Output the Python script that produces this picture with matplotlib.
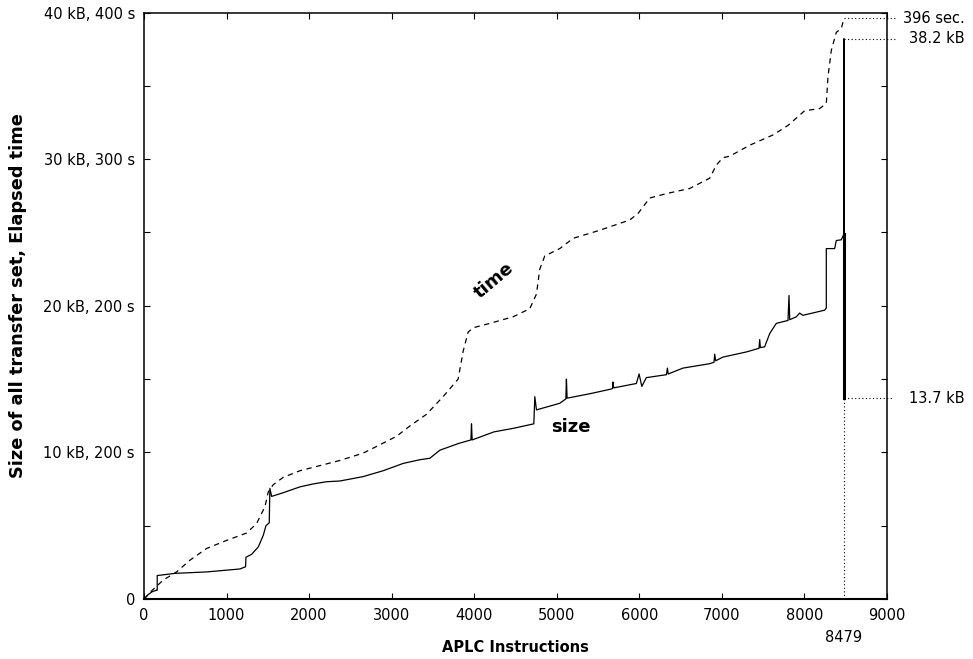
import matplotlib
matplotlib.use("Agg")
import matplotlib.pyplot as plt

# transfer set size (kB) vs. APLC instruction count
size_x = [0, 50, 100, 150, 160, 160, 375, 763, 1162, 1230, 1235, 1304, 1384, 1445,
          1477, 1517, 1525, 1546, 1686, 1889, 2050, 2212, 2373, 2655, 2897, 3140,
          3341, 3462, 3584, 3805, 3960, 3967, 3975, 4239, 4481, 4722, 4734, 4754,
          5036, 5110, 5117, 5125, 5400, 5642, 5675, 5680, 5690, 5964, 5997, 6030,
          6085, 6328, 6340, 6350, 6529, 6852, 6905, 6913, 6925, 7013, 7296, 7450,
          7458, 7466, 7518, 7579, 7659, 7801, 7813, 7822, 7902, 7942, 7982, 8245,
          8265, 8265, 8366, 8386, 8446, 8479, 8479, 8479]
size_y = [0, 0.3, 0.5, 0.6, 0.6, 1.6, 1.75, 1.85, 2.05, 2.2, 2.85, 3.05, 3.55, 4.35,
          5.0, 5.2, 7.55, 7.0, 7.25, 7.65, 7.85, 8.0, 8.05, 8.35, 8.75, 9.25,
          9.5, 9.6, 10.15, 10.6, 10.85, 11.95, 10.85, 11.4, 11.65, 11.95, 13.8, 12.9,
          13.35, 13.65, 15.0, 13.7, 14.0, 14.3, 14.35, 14.8, 14.4, 14.7, 15.35, 14.5,
          15.1, 15.3, 15.75, 15.35, 15.75, 16.05, 16.15, 16.7, 16.25, 16.5, 16.85, 17.1,
          17.7, 17.15, 17.2, 18.1, 18.8, 19.0, 20.7, 19.05, 19.25, 19.5, 19.35, 19.7,
          19.85, 23.9, 23.9, 24.45, 24.5, 24.9, 38.2, 13.7]

# elapsed time (s / 10)
time_x = [0, 100, 234, 395, 557, 759, 1001, 1243, 1364, 1465, 1505, 1566, 1686,
          1889, 2131, 2373, 2655, 2850, 3059, 3220, 3422, 3623, 3805, 3866, 3926,
          3987, 4189, 4471, 4673, 4754, 4794, 4855, 5036, 5198, 5521, 5884, 5985,
          6126, 6328, 6610, 6852, 6933, 7013, 7094, 7337, 7619, 7801, 8002, 8184,
          8265, 8285, 8325, 8386, 8446, 8479]
time_y = [0, 0.6, 1.3, 1.85, 2.65, 3.45, 4.0, 4.5, 5.15, 6.3, 7.3, 7.8, 8.3,
          8.75, 9.1, 9.45, 9.95, 10.5, 11.1, 11.8, 12.6, 13.8, 15.0, 16.9, 18.2,
          18.5, 18.8, 19.25, 19.8, 20.8, 22.5, 23.4, 23.9, 24.6, 25.15, 25.85, 26.3,
          27.35, 27.65, 28.0, 28.7, 29.6, 30.1, 30.2, 30.95, 31.65, 32.3, 33.3, 33.45,
          33.8, 35.6, 37.4, 38.65, 38.9, 39.6]

x_ticks = [0, 1000, 2000, 3000, 4000, 5000, 6000, 7000, 8000, 9000]
y_ticks = [0, 5, 10, 15, 20, 25, 30, 35, 40]
y_labels = ["0", "", "10 kB, 200 s", "", "20 kB, 200 s", "", "30 kB, 300 s", "", "40 kB, 400 s"]

last_x = 8479
end_time = 39.6
peak_size = 38.2
end_size = 13.7
end_labels = ["396 sec.", "38.2 kB", "13.7 kB"]

fig = plt.figure(figsize=(9.73, 6.59), dpi=100)
ax = fig.add_axes([0.148, 0.091, 0.7636, 0.890])

ax.plot(size_x, size_y, color="black", lw=0.9)
# the last column is drawn heavier between the last stable value and the final size
ax.plot([last_x, last_x], [size_y[-3], end_size], color="black", lw=2.2)
ax.plot(time_x, time_y, color="black", lw=0.9, dashes=(4.3, 3.6))

# dotted guides to the end-value labels
dot = (0, (1, 2.2))
ax.plot([last_x, 9120], [end_time, end_time], color="black", lw=0.8, ls=dot, clip_on=False)
ax.plot([last_x, 9120], [peak_size, peak_size], color="black", lw=0.8, ls=dot, clip_on=False)
ax.plot([last_x, 9070], [end_size, end_size], color="black", lw=0.8, ls=dot, clip_on=False)
ax.plot([last_x, last_x], [0, end_size], color="black", lw=0.8, ls=dot)

ax.text(9940, end_time, end_labels[0], ha="right", va="center", fontsize=10.5, clip_on=False)
ax.text(9940, peak_size, end_labels[1], ha="right", va="center", fontsize=10.5, clip_on=False)
ax.text(9940, end_size, end_labels[2], ha="right", va="center", fontsize=10.5, clip_on=False)
ax.annotate(str(last_x), xy=(last_x, 0), xytext=(0, -28), textcoords="offset points",
            ha="center", va="center", fontsize=10.5, annotation_clip=False)

ax.text(4240, 21.7, "time", rotation=40, ha="center", va="center", fontsize=13, fontweight="bold")
ax.text(5170, 11.75, "size", ha="center", va="center", fontsize=13, fontweight="bold")

ax.set_xlim(0, 9000)
ax.set_ylim(0, 40)
ax.set_xticks(x_ticks)
ax.set_yticks(y_ticks)
ax.set_yticklabels(y_labels)
ax.tick_params(direction="in", length=4.3, width=0.8, top=True, right=True,
               labelsize=10.5, pad=6.5)
for s in ax.spines.values():
    s.set_linewidth(1.1)
ax.spines["bottom"].set_linewidth(1.5)

ax.set_xlabel("APLC Instructions", fontsize=10.5, fontweight="bold", labelpad=12)
fig.text(0.0185, 0.551, "Size of all transfer set, Elapsed time", rotation=90,
         ha="center", va="center", fontsize=12.8, fontweight="bold")

fig.savefig("out.png", dpi=100)
